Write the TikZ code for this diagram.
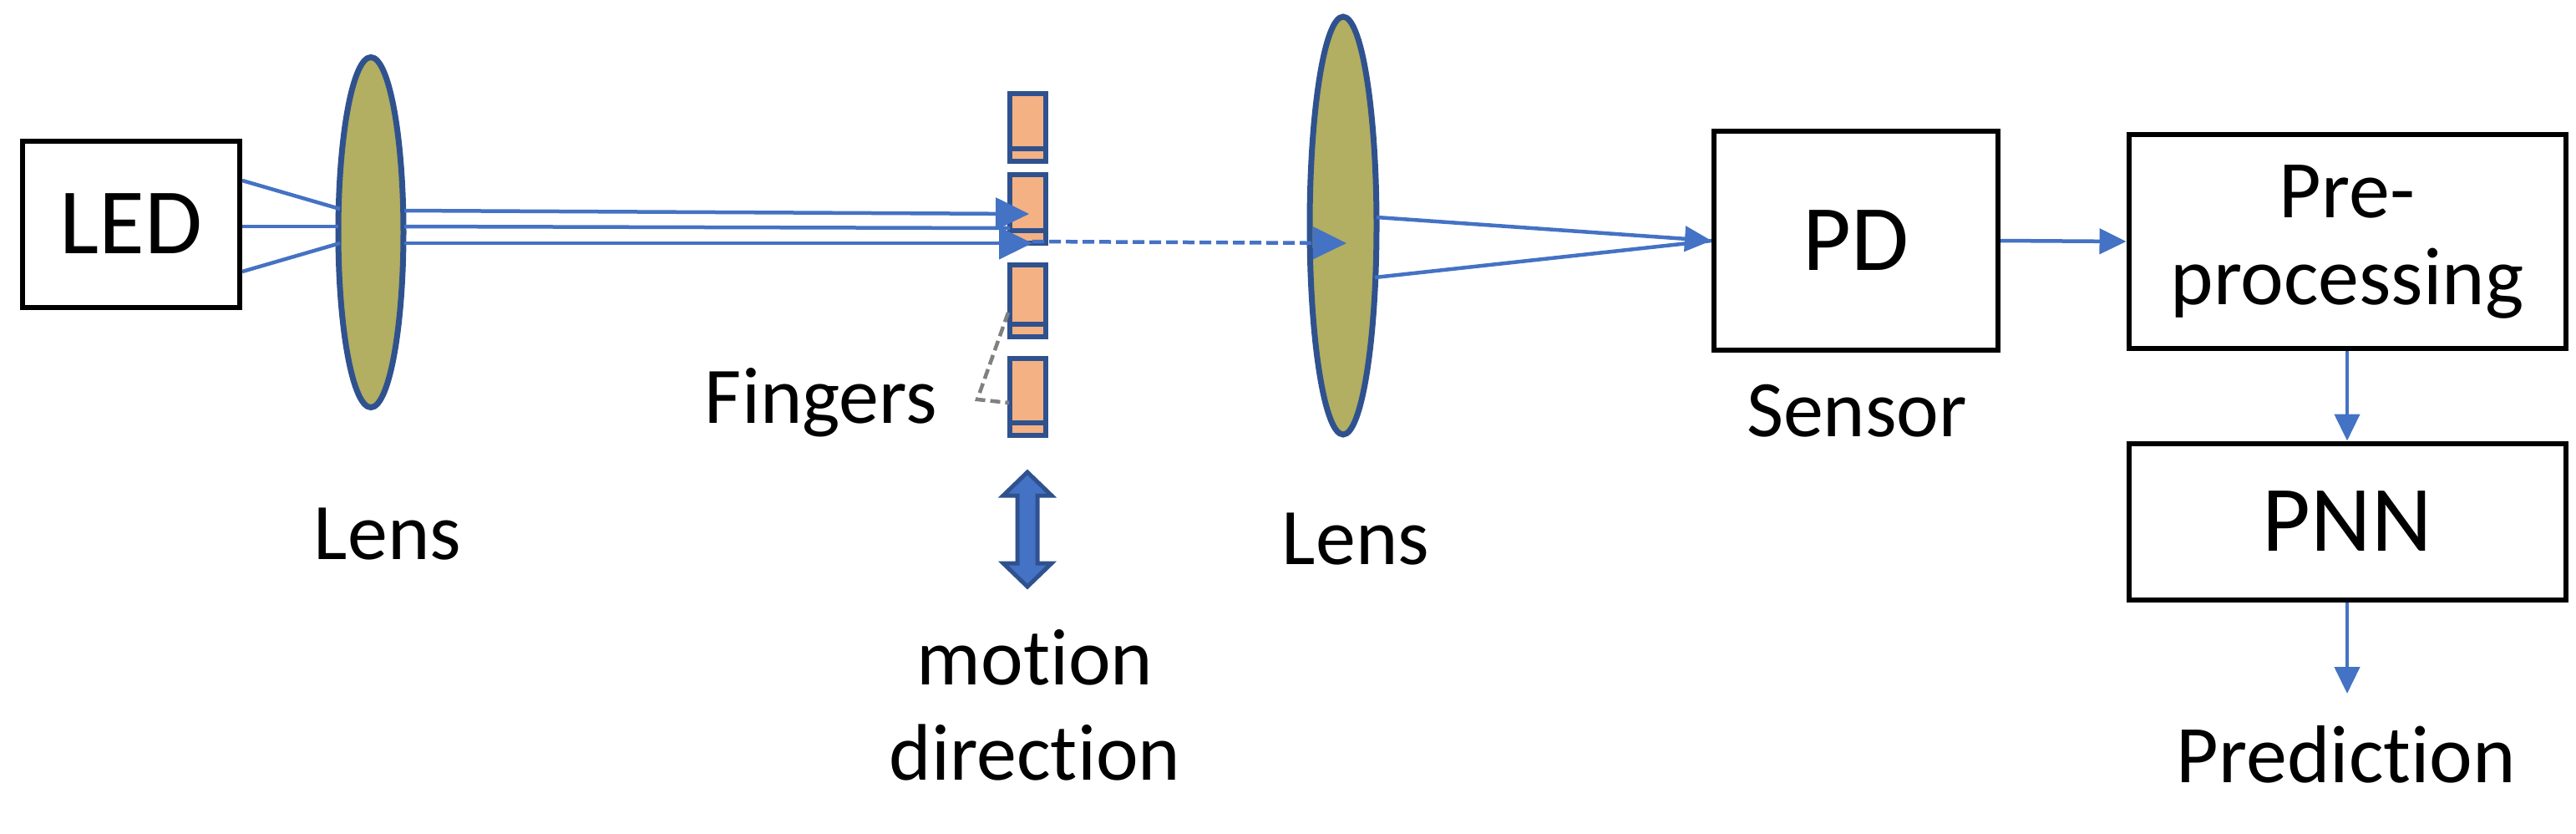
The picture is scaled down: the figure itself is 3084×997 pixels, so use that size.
\documentclass[tikz,border=0pt]{standalone}
\usepackage{fontspec}
\setmainfont[Ligatures={NoCommon}]{Carlito}
\usetikzlibrary{arrows.meta,shapes.geometric,shapes.arrows}
\definecolor{ray}{HTML}{4472C4}
\definecolor{dk}{HTML}{2F528F}
\definecolor{lensc}{HTML}{B2AE62}
\definecolor{fing}{HTML}{F4B183}
\begin{document}
\begin{tikzpicture}[x=1pt,y=-1pt,
 box/.style={draw=black,line width=6pt,fill=white,inner sep=0},
 lensel/.style={ellipse,draw=dk,fill=lensc,line width=7pt,inner sep=0},
 rayl/.style={draw=ray,line width=4.5pt},
 arr/.style={rayl,-{Triangle[length=32pt,width=30pt]}},
 bigarr/.style={rayl,-{Triangle[length=40pt,width=38pt]}},
 lbl/.style={font=\fontsize{96}{114}\selectfont,inner sep=0}]
\useasboundingbox (0,0) rectangle (3084,997);
\node[box,minimum width=260pt,minimum height=199pt,font=\fontsize{112}{120}\selectfont] (led) at (157,268) {LED};
\node[lensel,minimum width=78pt,minimum height=419pt] (l1) at (444,278) {};
\node[lensel,minimum width=80pt,minimum height=500pt] (l2) at (1608,270) {};
\node[box,minimum width=340pt,minimum height=262pt,font=\fontsize{112}{120}\selectfont] (pd) at (2222,288) {PD};
\node[box,minimum width=523pt,minimum height=256pt,font=\fontsize{98}{104}\selectfont,align=center] (pre) at (2810,289) {Pre-\\processing};
\node[box,minimum width=523pt,minimum height=187pt,font=\fontsize{112}{120}\selectfont] (pnn) at (2810,624) {PNN};
% fingers
\foreach \n/\yt/\yb in {f1/112/193,f2/209/291,f3/317/403,f4/429/521}{
 \draw[dk,fill=fing,line width=6pt] (1209,\yt) rectangle (1252,\yb);
 \draw[dk,line width=6pt] (1209,\yb-15) -- (1252,\yb-15);
 \coordinate (\n) at (1230,{(\yt+\yb)/2});
}
% rays
\draw[rayl] (led.east |- 0,216) -- (407,250);
\draw[rayl] (led.east |- 0,271) -- (405,271);
\draw[rayl] (led.east |- 0,325) -- (407,291);
\coordinate (b1) at (1232,256); \coordinate (b3) at (1236,291);
\draw[bigarr] (484,252) -- (b1);
\draw[rayl] (484,271) -- (1209,273);
\draw[bigarr] (484,291) -- (b3);
\coordinate (c) at (1612,291);
\draw[bigarr,dashed,dash pattern=on 14pt off 6pt] (1236,289) -- (c);
\draw[arr] (1648,260) -- (pd.west);
\draw[rayl] (1646,332) -- (pd.west);
\draw[arr] (pd.east) -- (pre.west);
\draw[arr] (pre.south) -- (pnn.north);
\node[lbl,font=\fontsize{98}{104}\selectfont] (pred) at (2809,903) {Prediction};
\coordinate (pe) at (2810,830);
\draw[arr] (pnn.south) -- (pe);
% labels
\node[lbl] (fl) at (983,482) {Fingers};
\draw[gray,line width=4.5pt,dashed,dash pattern=on 12pt off 6pt] (1207,374) -- (1170,478) -- (1208,482);
\node[lbl] at (464,639) {Lens};
\node[lbl] at (1623,645) {Lens};
\node[lbl] at (2223,492) {Sensor};
\node[lbl] at (1239,787) {motion};
\node[lbl] at (1239,901) {direction};
% double arrow
\draw[dk,fill=ray,line width=5pt,line join=miter]
 (1230,565) -- (1259,593) -- (1242,593) -- (1242,674) -- (1259,674) -- (1230,702)
 -- (1201,674) -- (1218,674) -- (1218,593) -- (1201,593) -- cycle;
\end{tikzpicture}
\end{document}
